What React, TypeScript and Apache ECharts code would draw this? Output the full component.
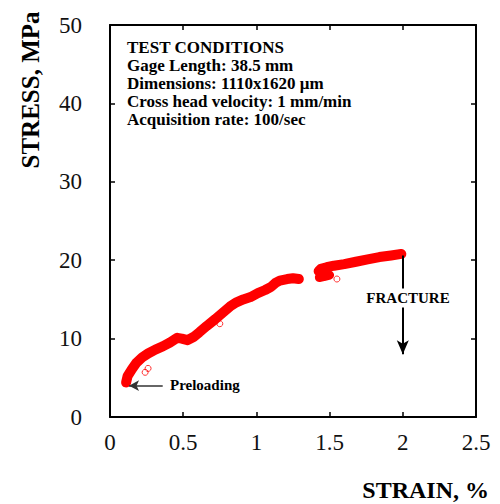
import React, { useEffect, useRef } from "react";
import * as echarts from "echarts";

const strain: (number | null)[] = [0.11, 0.12, 0.15, 0.18, 0.22, 0.26, 0.31, 0.36, 0.41, 0.46, 0.49, 0.53, 0.57, 0.61, 0.66, 0.72, 0.77, 0.82, 0.86, 0.91, 0.96, 1.01, 1.06, 1.10, 1.13, 1.16, 1.21, 1.25, 1.29, null, 1.425, 1.44, 1.48, 1.53, 1.60, 1.68, 1.76, 1.84, 1.92, 1.99];
const stress: (number | null)[] = [4.4, 5.2, 6.1, 6.9, 7.6, 8.1, 8.6, 9.0, 9.5, 10.1, 10.0, 9.8, 10.2, 10.8, 11.6, 12.5, 13.3, 14.1, 14.6, 15.0, 15.3, 15.8, 16.2, 16.6, 17.1, 17.4, 17.6, 17.7, 17.6, null, 18.6, 18.9, 19.1, 19.3, 19.5, 19.8, 20.1, 20.4, 20.6, 20.8];
const lobeStrain = [1.43, 1.46, 1.50];
const lobeStress = [17.8, 17.9, 18.1];
const outlierStrain = [0.26, 0.75, 1.55, 0.24];
const outlierStress = [6.2, 11.9, 17.6, 5.7];
const xTicks = [0, 0.5, 1, 1.5, 2, 2.5];
const yTicks = [0, 10, 20, 30, 40, 50];
const conditions = [
  "TEST CONDITIONS",
  "Gage Length: 38.5 mm",
  "Dimensions: 1110x1620 \u03bcm",
  "Cross head velocity: 1 mm/min",
  "Acquisition rate: 100/sec",
];

const FONT = "'Liberation Serif', 'Times New Roman', serif";

export default function App() {
  const ref = useRef<HTMLDivElement>(null);
  useEffect(() => {
    document.body.style.margin = "0";
    const chart = echarts.init(ref.current!, undefined, { renderer: "svg" });
    const main = strain.map((x, i) => (x === null ? [null, null] : [x, stress[i]]));
    const lobe = lobeStrain.map((x, i) => [x, lobeStress[i]]);
    const outliers = outlierStrain.map((x, i) => [x, outlierStress[i]]);
    const axisLine = { show: true, onZero: false, lineStyle: { color: "#000", width: 2 } };
    const tick = { show: true, inside: true, length: 5, lineStyle: { color: "#000", width: 1.5 } };
    const xMin = xTicks[0], xMax = xTicks[xTicks.length - 1];
    const yMin = yTicks[0], yMax = yTicks[yTicks.length - 1];
    chart.setOption({
      animation: false,
      backgroundColor: "#fff",
      grid: { left: 110, top: 25, width: 366, height: 392, containLabel: false },
      xAxis: [
        {
          type: "value", min: xMin, max: xMax, interval: 0.5, position: "bottom",
          axisLine, axisTick: tick, splitLine: { show: false },
          axisLabel: { color: "#111", fontFamily: FONT, fontSize: 23, margin: 14 },
        },
        {
          type: "value", min: xMin, max: xMax, interval: 0.5, position: "top",
          axisLine, axisTick: tick, splitLine: { show: false }, axisLabel: { show: false },
        },
      ],
      yAxis: [
        {
          type: "value", min: yMin, max: yMax, interval: 10, position: "left",
          axisLine, axisTick: tick, splitLine: { show: false },
          axisLabel: { color: "#111", fontFamily: FONT, fontSize: 23, margin: 28 },
        },
        {
          type: "value", min: yMin, max: yMax, interval: 10, position: "right",
          axisLine, axisTick: tick, splitLine: { show: false }, axisLabel: { show: false },
        },
      ],
      series: [
        {
          type: "line", data: main, showSymbol: false, connectNulls: false,
          lineStyle: { color: "#f00", width: 10, cap: "round", join: "round" },
          markLine: {
            silent: true, symbol: ["none", "arrow"], symbolSize: [9, 14],
            label: { show: false },
            lineStyle: { color: "#000", width: 2, type: "solid" },
            data: [[{ coord: [2.0, 20.6] }, { coord: [2.0, 8.0] }]],
          },
          z: 3,
        },
        {
          type: "line", data: lobe, showSymbol: false,
          lineStyle: { color: "#f00", width: 9, cap: "round", join: "round" }, z: 3,
        },
        {
          type: "scatter", data: outliers, symbol: "circle", symbolSize: 6,
          itemStyle: { color: "rgba(0,0,0,0)", borderColor: "#f00", borderWidth: 1 }, z: 2,
        },
        {
          type: "line", data: [], markLine: {
            silent: true, symbol: ["none", "arrow"], symbolSize: [8, 10],
            label: { show: false },
            lineStyle: { color: "#333", width: 1.5, type: "solid" },
            data: [[{ coord: [0.36, 4.0] }, { coord: [0.13, 4.0] }]],
          },
        },
      ],
      graphic: [
        {
          type: "text", left: 127, top: 38, z: 10,
          style: {
            text: conditions.join("\n"), fontFamily: FONT, fontWeight: "bold",
            fontSize: 17, lineHeight: 18, fill: "#000",
          },
        },
        {
          type: "text", x: 170, y: 385, z: 10,
          style: {
            text: "Preloading", fontFamily: FONT, fontWeight: "bold", fontSize: 15,
            fill: "#000", verticalAlign: "middle",
          },
        },
        {
          type: "text", x: 408, y: 298, z: 10,
          style: {
            text: "FRACTURE", fontFamily: FONT, fontWeight: "bold", fontSize: 15,
            fill: "#000", align: "center", verticalAlign: "middle",
            backgroundColor: "#fff", padding: [2, 1],
          },
        },
        {
          type: "text", x: 489, y: 490, z: 10,
          style: {
            text: "STRAIN, %", fontFamily: FONT, fontWeight: "bold", fontSize: 24,
            fill: "#000", align: "right", verticalAlign: "middle",
          },
        },
        {
          type: "text", x: 30, y: 90, rotation: Math.PI / 2, z: 10,
          style: {
            text: "STRESS, MPa", fontFamily: FONT, fontWeight: "bold", fontSize: 25,
            fill: "#000", align: "center", verticalAlign: "middle",
          },
        },
      ],
    });
    return () => chart.dispose();
  }, []);
  return <div ref={ref} style={{ width: 500, height: 504 }} />;
}
